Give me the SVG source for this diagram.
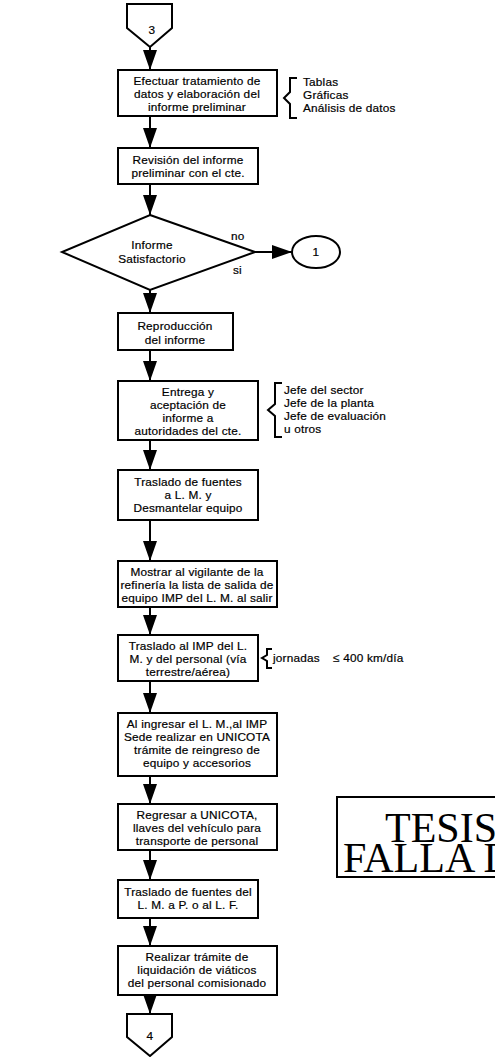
<svg xmlns="http://www.w3.org/2000/svg" width="495" height="1057" viewBox="0 0 495 1057">
  <style>
    .box { fill: #fff; stroke: #000; stroke-width: 2; }
    .ln { fill: none; stroke: #000; stroke-width: 2; }
    .t { font-family: "Liberation Sans", Arial, sans-serif; font-size: 11.8px; letter-spacing: 0.2px; fill: #000; stroke: #000; stroke-width: 0.2; }
    .c { text-anchor: middle; }
    .stamp { font-family: "Liberation Serif", "Times New Roman", serif; font-size: 42px; fill: #000; }
  </style>
  <defs>
    <marker id="ah" viewBox="0 0 20 14" refX="20" refY="7" markerWidth="20" markerHeight="14" markerUnits="userSpaceOnUse" orient="auto">
      <path d="M0,0 L20,7 L0,14 Z" fill="#000"/>
    </marker>
  </defs>

  <rect width="495" height="1057" fill="#fff"/>

  <!-- flow lines, each ending in a filled arrowhead -->
  <g id="connectors">
    <line class="ln" x1="150" y1="47" x2="150" y2="70" marker-end="url(#ah)"/>
    <line class="ln" x1="150" y1="116" x2="150" y2="148" marker-end="url(#ah)"/>
    <line class="ln" x1="150" y1="184" x2="150" y2="215" marker-end="url(#ah)"/>
    <line class="ln" x1="255" y1="252" x2="292" y2="252" marker-end="url(#ah)"/>
    <line class="ln" x1="150" y1="290" x2="150" y2="313" marker-end="url(#ah)"/>
    <line class="ln" x1="150" y1="350" x2="150" y2="381" marker-end="url(#ah)"/>
    <line class="ln" x1="150" y1="440" x2="150" y2="470" marker-end="url(#ah)"/>
    <line class="ln" x1="150" y1="520" x2="150" y2="561" marker-end="url(#ah)"/>
    <line class="ln" x1="150" y1="607" x2="150" y2="635" marker-end="url(#ah)"/>
    <line class="ln" x1="150" y1="681" x2="150" y2="713" marker-end="url(#ah)"/>
    <line class="ln" x1="150" y1="776" x2="150" y2="804" marker-end="url(#ah)"/>
    <line class="ln" x1="150" y1="850" x2="150" y2="880" marker-end="url(#ah)"/>
    <line class="ln" x1="150" y1="918" x2="150" y2="946" marker-end="url(#ah)"/>
    <line class="ln" x1="150" y1="995" x2="150" y2="1014" marker-end="url(#ah)"/>
  </g>

  <!-- off-page connector 3 -->
  <g id="off3">
    <polygon class="box" points="127,4 172,4 172,28 150,47 127,28"/>
    <text class="t c" x="152" y="34">3</text>
  </g>

  <g id="n1">
    <rect class="box" x="118" y="70" width="159" height="46"/>
    <text class="t c" x="197" y="85">Efectuar tratamiento de</text>
    <text class="t c" x="197" y="98">datos y elaboración del</text>
    <text class="t c" x="197" y="111">informe preliminar</text>
  </g>

  <g id="note1">
    <path class="ln" d="M297,78 L290,78 L290,92 L284,98 L290,104 L290,118 L297,118"/>
    <text class="t" x="303" y="86">Tablas</text>
    <text class="t" x="303" y="99">Gráficas</text>
    <text class="t" x="303" y="112">Análisis de datos</text>
  </g>

  <g id="n2">
    <rect class="box" x="118" y="148" width="140" height="36"/>
    <text class="t c" x="188" y="164">Revisión del informe</text>
    <text class="t c" x="188" y="177">preliminar con el cte.</text>
  </g>

  <g id="d1">
    <polygon class="box" points="150,215 255,252 150,290 62,252"/>
    <text class="t c" x="152" y="249">Informe</text>
    <text class="t c" x="152" y="263">Satisfactorio</text>
    <text class="t" x="231" y="240">no</text>
    <text class="t" x="233" y="274">si</text>
  </g>

  <g id="c1">
    <ellipse class="box" cx="316" cy="252" rx="24" ry="16"/>
    <text class="t c" x="316" y="256">1</text>
  </g>

  <g id="n3">
    <rect class="box" x="118" y="313" width="115" height="37"/>
    <text class="t c" x="175" y="330">Reproducción</text>
    <text class="t c" x="175" y="344">del informe</text>
  </g>

  <g id="n4">
    <rect class="box" x="118" y="381" width="140" height="59"/>
    <text class="t c" x="188" y="396">Entrega y</text>
    <text class="t c" x="188" y="409">aceptación de</text>
    <text class="t c" x="188" y="422">informe a</text>
    <text class="t c" x="188" y="435">autoridades del cte.</text>
  </g>

  <g id="note2">
    <path class="ln" d="M282,383 L275,383 L275,404 L268,410 L275,416 L275,437 L282,437"/>
    <text class="t" x="284" y="394">Jefe del sector</text>
    <text class="t" x="284" y="407">Jefe de la planta</text>
    <text class="t" x="284" y="420">Jefe de evaluación</text>
    <text class="t" x="284" y="433">u otros</text>
  </g>

  <g id="n5">
    <rect class="box" x="118" y="470" width="140" height="50"/>
    <text class="t c" x="188" y="486">Traslado de fuentes</text>
    <text class="t c" x="188" y="499">a L. M. y</text>
    <text class="t c" x="188" y="512">Desmantelar equipo</text>
  </g>

  <g id="n6">
    <rect class="box" x="118" y="561" width="159" height="46"/>
    <text class="t c" x="197" y="576">Mostrar al vigilante de la</text>
    <text class="t c" x="197" y="589">refinería la lista de salida de</text>
    <text class="t c" x="197" y="602">equipo IMP del L. M. al salir</text>
  </g>

  <g id="n7">
    <rect class="box" x="118" y="635" width="140" height="46"/>
    <text class="t c" x="188" y="650">Traslado al IMP del L.</text>
    <text class="t c" x="188" y="663">M. y del personal (vía</text>
    <text class="t c" x="188" y="676">terrestre/aérea)</text>
  </g>

  <g id="note3">
    <path class="ln" d="M272,649 L267,649 L267,655 L262,658 L267,661 L267,668 L272,668"/>
    <text class="t" x="273" y="662">jornadas</text>
    <text class="t" x="333" y="662">≤ 400 km/día</text>
  </g>

  <g id="n8">
    <rect class="box" x="118" y="713" width="159" height="63"/>
    <text class="t c" x="197" y="728">Al ingresar el L. M.,al IMP</text>
    <text class="t c" x="197" y="741">Sede realizar en UNICOTA</text>
    <text class="t c" x="197" y="754">trámite de reingreso de</text>
    <text class="t c" x="197" y="767">equipo y accesorios</text>
  </g>

  <g id="n9">
    <rect class="box" x="118" y="804" width="159" height="46"/>
    <text class="t c" x="197" y="819">Regresar a UNICOTA,</text>
    <text class="t c" x="197" y="832">llaves del vehículo para</text>
    <text class="t c" x="197" y="845">transporte de personal</text>
  </g>

  <g id="n10">
    <rect class="box" x="118" y="880" width="140" height="38"/>
    <text class="t c" x="188" y="896">Traslado de fuentes del</text>
    <text class="t c" x="188" y="909">L. M. a P. o al L. F.</text>
  </g>

  <g id="n11">
    <rect class="box" x="118" y="946" width="159" height="49"/>
    <text class="t c" x="197" y="961">Realizar trámite de</text>
    <text class="t c" x="197" y="974">liquidación de viáticos</text>
    <text class="t c" x="197" y="987">del personal comisionado</text>
  </g>

  <!-- off-page connector 4 -->
  <g id="off4">
    <polygon class="box" points="127,1014 172,1014 172,1037 150,1056 127,1037"/>
    <text class="t c" x="150" y="1040">4</text>
  </g>

  <!-- stamp at the right edge, partly outside the page -->
  <g id="stamp">
    <rect x="337" y="797" width="170" height="80" fill="none" stroke="#000" stroke-width="2"/>
    <text class="stamp" x="385" y="842">TESIS CON</text>
    <text class="stamp" x="343" y="872">FALLA DE ORIGEN</text>
  </g>
</svg>
